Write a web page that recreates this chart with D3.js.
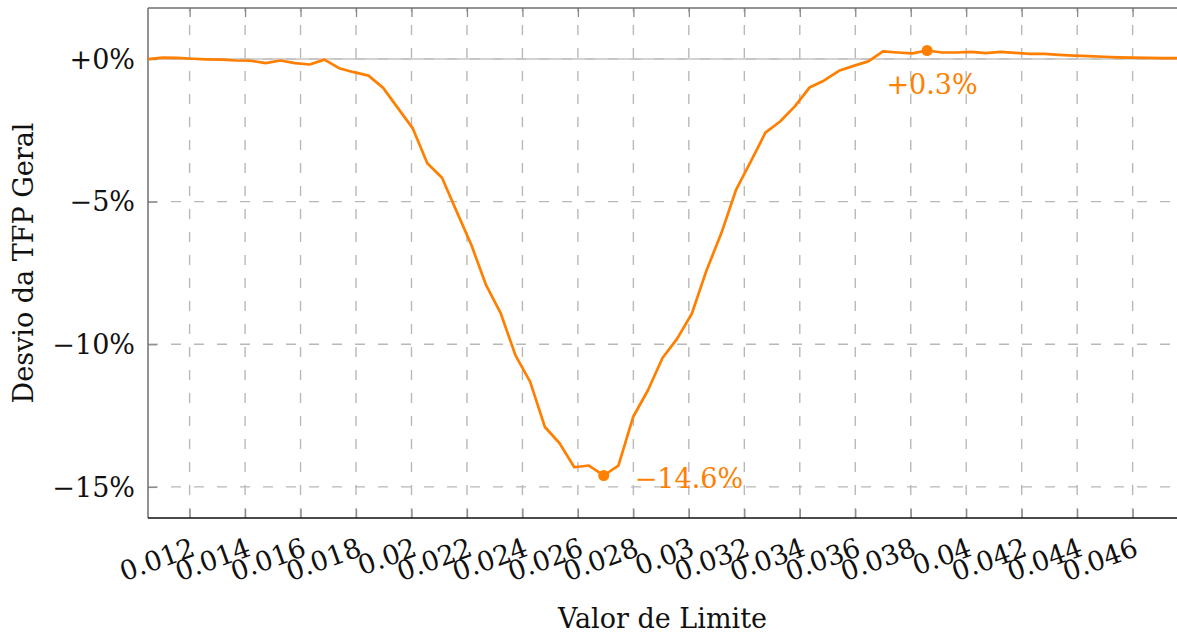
<!DOCTYPE html>
<html>
<head>
<meta charset="utf-8">
<script src="https://cdn.jsdelivr.net/npm/d3@7"></script>
<style>
  html, body { margin: 0; padding: 0; background: #fff; }
  svg { display: block; }
</style>
</head>
<body>
<svg id="chart" width="1177" height="636" font-family="'DejaVu Serif', 'Liberation Serif', serif"></svg>
<script>
// ---- data ----
const limitValues = [
  0.0105, 0.01103, 0.01156, 0.01209, 0.01262, 0.01315, 0.01368, 0.01421, 0.01474, 0.01527,
  0.0158, 0.01633, 0.01686, 0.01739, 0.01792, 0.01845, 0.01898, 0.01951, 0.02004, 0.02057,
  0.0211, 0.02163, 0.02216, 0.02269, 0.02322, 0.02375, 0.02428, 0.02481, 0.02534, 0.02587,
  0.0264, 0.02693, 0.02746, 0.02799, 0.02852, 0.02905, 0.02958, 0.03011, 0.03064, 0.03117,
  0.0317, 0.03223, 0.03276, 0.03329, 0.03382, 0.03435, 0.03488, 0.03541, 0.03594, 0.03647,
  0.037, 0.03753, 0.03806, 0.03859, 0.03912, 0.03965, 0.04018, 0.04071, 0.04124, 0.04177,
  0.0423, 0.04283, 0.04336, 0.04389, 0.04442, 0.04495, 0.04548, 0.04601, 0.04654, 0.04707,
  0.0476
];
const tfpDeviation = [
  0.0, 0.05, 0.04, 0.01, -0.01, -0.02, -0.05, -0.06, -0.14, -0.05,
  -0.14, -0.19, -0.02, -0.32, -0.46, -0.58, -1.01, -1.72, -2.42, -3.65,
  -4.16, -5.35, -6.52, -7.93, -8.92, -10.39, -11.32, -12.9, -13.47, -14.31,
  -14.25, -14.6, -14.25, -12.55, -11.62, -10.48, -9.8, -8.92, -7.4, -6.11,
  -4.59, -3.6, -2.58, -2.19, -1.66, -1.0, -0.75, -0.41, -0.24, -0.08,
  0.27, 0.23, 0.2, 0.3, 0.23, 0.23, 0.25, 0.21, 0.25, 0.22,
  0.18, 0.18, 0.15, 0.12, 0.1, 0.08, 0.06, 0.05, 0.04, 0.03,
  0.03
];
const xTickValues = [0.012, 0.014, 0.016, 0.018, 0.02, 0.022, 0.024, 0.026, 0.028, 0.03,
                     0.032, 0.034, 0.036, 0.038, 0.04, 0.042, 0.044, 0.046];
const xTickLabels = ["0.012", "0.014", "0.016", "0.018", "0.02", "0.022", "0.024", "0.026", "0.028", "0.03",
                     "0.032", "0.034", "0.036", "0.038", "0.04", "0.042", "0.044", "0.046"];
const yTickValues = [0, -5, -10, -15];
const yTickLabels = ["+0%", "\u22125%", "\u221210%", "\u221215%"];
const minLabel = "\u221214.6%";
const maxLabel = "+0.3%";
const xTitle = "Valor de Limite";
const yTitle = "Desvio da TFP Geral";

// ---- layout ----
const svg = d3.select("#chart");
const L = 148, R = 1177, T = 8, B = 518;
const orange = "#ff7f00";
const fontSize = 27;
const fontFam = "'DejaVu Serif', 'Liberation Serif', serif";

const data = limitValues.map((v, i) => ({ x: v, y: tfpDeviation[i] }));
const yMin = d3.min(tfpDeviation), yMax = d3.max(tfpDeviation);
const pad = (yMax - yMin) * 0.1;

const x = d3.scaleLinear().domain([d3.min(limitValues), d3.max(limitValues)]).range([L, R]);
const y = d3.scaleLinear().domain([yMin - pad, yMax + pad]).range([B, T]);

// grid (dashed)
const grid = svg.append("g");
grid.selectAll("line.vg").data(xTickValues).join("line")
  .attr("x1", d => x(d)).attr("x2", d => x(d)).attr("y1", B).attr("y2", T)
  .attr("stroke", "#b8b8b8").attr("stroke-width", 1.4).attr("stroke-dasharray", "10,13");
grid.selectAll("line.hg").data(yTickValues).join("line")
  .attr("x1", L).attr("x2", R).attr("y1", d => y(d)).attr("y2", d => y(d))
  .attr("stroke", "#b8b8b8").attr("stroke-width", 1.4).attr("stroke-dasharray", "10,13");
grid.append("line").attr("x1", L).attr("x2", R).attr("y1", y(0)).attr("y2", y(0))
  .attr("stroke", "#c4c4c4").attr("stroke-width", 1.6);

// axes with inner ticks
const xBottom = d3.axisBottom(x).tickValues(xTickValues).tickSize(-9).tickFormat("");
const xTop = d3.axisTop(x).tickValues(xTickValues).tickSize(-9).tickFormat("");
const yLeft = d3.axisLeft(y).tickValues(yTickValues).tickSize(-9).tickFormat("");

const gxb = svg.append("g").attr("transform", `translate(0,${B})`).call(xBottom);
const gxt = svg.append("g").attr("transform", `translate(0,${T})`).call(xTop);
const gyl = svg.append("g").attr("transform", `translate(${L},0)`).call(yLeft);
[gxb, gxt, gyl].forEach(g => {
  g.select(".domain").remove();
  g.selectAll(".tick line").attr("stroke", "#8a8a8a").attr("stroke-width", 1.3);
});

// spines
svg.append("line").attr("x1", L).attr("x2", R).attr("y1", T).attr("y2", T).attr("stroke", "#6e6e6e").attr("stroke-width", 1.5);
svg.append("line").attr("x1", L).attr("x2", L).attr("y1", T).attr("y2", B).attr("stroke", "#6e6e6e").attr("stroke-width", 1.5);
svg.append("line").attr("x1", L).attr("x2", R).attr("y1", B).attr("y2", B).attr("stroke", "#111").attr("stroke-width", 1.5);

// x tick labels (rotated)
svg.append("g").selectAll("text").data(xTickValues).join("text")
  .attr("transform", d => `translate(${x(d) + 7},${B + 37}) rotate(-20)`)
  .attr("text-anchor", "end")
  .attr("font-family", fontFam)
  .attr("font-size", fontSize)
  .attr("fill", "#111")
  .text((d, i) => xTickLabels[i]);

// y tick labels
svg.append("g").selectAll("text").data(yTickValues).join("text")
  .attr("x", L - 13).attr("y", d => y(d)).attr("dy", "0.36em")
  .attr("text-anchor", "end")
  .attr("font-family", fontFam)
  .attr("font-size", fontSize)
  .attr("fill", "#111")
  .text((d, i) => yTickLabels[i]);

// axis titles
svg.append("text").attr("x", (L + R) / 2).attr("y", 628).attr("text-anchor", "middle")
  .attr("font-family", fontFam).attr("font-size", fontSize).attr("fill", "#111").text(xTitle);
svg.append("text").attr("transform", `translate(33,${(T + B) / 2}) rotate(-90)`).attr("text-anchor", "middle")
  .attr("font-family", fontFam).attr("font-size", fontSize).attr("fill", "#111").text(yTitle);

// line
svg.append("path").datum(data)
  .attr("fill", "none").attr("stroke", orange).attr("stroke-width", 2.7).attr("stroke-linejoin", "round")
  .attr("d", d3.line().x(d => x(d.x)).y(d => y(d.y)));

// extreme points
const minPt = data[d3.minIndex(data, d => d.y)];
const maxPt = data[d3.maxIndex(data, d => d.y)];
svg.selectAll("circle.ext").data([minPt, maxPt]).join("circle")
  .attr("cx", d => x(d.x)).attr("cy", d => y(d.y)).attr("r", 5.5).attr("fill", orange);

svg.append("text").attr("x", x(minPt.x) + 31).attr("y", y(minPt.y) + 12)
  .attr("font-family", fontFam).attr("font-size", fontSize).attr("fill", orange).text(minLabel);
svg.append("text").attr("x", x(maxPt.x) + 5).attr("y", y(maxPt.y) + 43).attr("text-anchor", "middle")
  .attr("font-family", fontFam).attr("font-size", fontSize).attr("fill", orange).text(maxLabel);
</script>
</body>
</html>
